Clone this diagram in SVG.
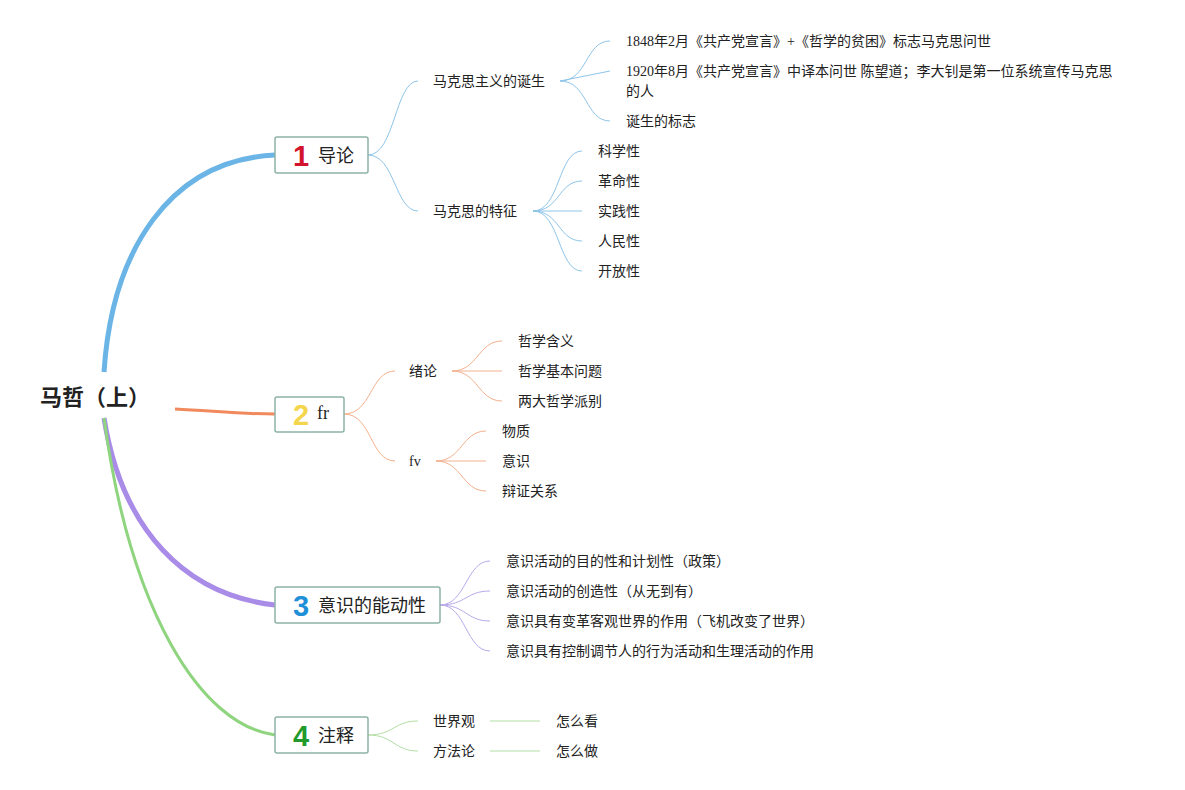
<svg xmlns="http://www.w3.org/2000/svg" width="1185" height="790" viewBox="0 0 1185 790">
<style>
text{font-family:"Liberation Serif","Noto Sans CJK SC",sans-serif;fill:#222}
.t{font-size:14px}
.b{font-size:18px}
.n{font-family:"Liberation Sans","Noto Sans CJK SC",sans-serif;font-weight:bold;font-size:29px}
.box{fill:#fff;stroke:#8db3a8;stroke-width:1.5}
.c{fill:none}
.bl{stroke:#8ec5e9;stroke-width:1}
.or{stroke:#f4b08d;stroke-width:1}
.pu{stroke:#b9a9ea;stroke-width:1}
.gr{stroke:#b3dea5;stroke-width:1}
</style>
<rect width="1185" height="790" fill="#fff"/>
<g id="connectors" class="c">
<path d="M104,372 C112,250 170,160 275,155" stroke="#6ab4e6" stroke-width="5"/>
<path d="M175,409 C215,411 240,414 275,414" stroke="#f08a5c" stroke-width="3"/>
<path d="M104,418 C122,530 185,595 275,605" stroke="#a98be8" stroke-width="5"/>
<path d="M104,418 C130,610 200,725 275,735" stroke="#8fd47e" stroke-width="3"/>
<g class="bl">
<path d="M368,155 C395,155 395,81 418,81"/>
<path d="M368,155 C395,155 395,211 418,211"/>
<path d="M560,81 C588,81 585,41 610,41"/>
<path d="M560,81 L610,71"/>
<path d="M560,81 C588,81 585,121 610,121"/>
<path d="M533,211 C560,211 558,151 582,151"/>
<path d="M533,211 C560,211 558,181 582,181"/>
<path d="M533,211 L582,211"/>
<path d="M533,211 C560,211 558,241 582,241"/>
<path d="M533,211 C560,211 558,271 582,271"/>
</g>
<g class="or">
<path d="M344,414 C372,414 370,371 395,371"/>
<path d="M344,414 C372,414 370,461 395,461"/>
<path d="M452,371 C478,371 478,341 502,341"/>
<path d="M452,371 L502,371"/>
<path d="M452,371 C478,371 478,401 502,401"/>
<path d="M436,461 C462,461 462,431 486,431"/>
<path d="M436,461 L486,461"/>
<path d="M436,461 C462,461 462,491 486,491"/>
</g>
<g class="pu">
<path d="M440,605 C466,605 466,561 490,561"/>
<path d="M440,605 C466,605 466,591 490,591"/>
<path d="M440,605 C466,605 466,621 490,621"/>
<path d="M440,605 C466,605 466,651 490,651"/>
</g>
<g class="gr">
<path d="M368,735 C394,735 394,721 418,721"/>
<path d="M368,735 C394,735 394,751 418,751"/>
<path d="M490,721 L540,721"/>
<path d="M490,751 L540,751"/>
</g>
</g>
<g id="root"><text x="40" y="405" style="font-size:22px;font-weight:bold;font-family:'Liberation Sans','Noto Sans CJK SC',sans-serif">马哲（上）</text></g>
<g id="n1"><rect class="box" x="275" y="137" width="93" height="36" rx="2"/><text class="n" x="293" y="166" fill="#d3122c" style="fill:#d3122c">1</text><text class="b" x="318" y="162">导论</text></g>
<g id="n2"><rect class="box" x="275" y="397" width="69" height="35" rx="2"/><text class="n" x="293" y="425" style="fill:#f4d64c">2</text><text class="b" x="317" y="419">fr</text></g>
<g id="n3"><rect class="box" x="275" y="587" width="165" height="36" rx="2"/><text class="n" x="293" y="616" style="fill:#1f8fd8">3</text><text class="b" x="318" y="612">意识的能动性</text></g>
<g id="n4"><rect class="box" x="275" y="717" width="93" height="36" rx="2"/><text class="n" x="293" y="746" style="fill:#1f9a2b">4</text><text class="b" x="318" y="742">注释</text></g>
<g id="n1a"><text class="t" x="433" y="86">马克思主义的诞生</text></g>
<g id="n1b"><text class="t" x="433" y="216">马克思的特征</text></g>
<g id="n1a1"><text class="t" x="626" y="46">1848年2月《共产党宣言》+《哲学的贫困》标志马克思问世</text></g>
<g id="n1a2"><text class="t" x="626" y="76">1920年8月《共产党宣言》中译本问世 陈望道；李大钊是第一位系统宣传马克思</text><text class="t" x="626" y="96">的人</text></g>
<g id="n1a3"><text class="t" x="626" y="126">诞生的标志</text></g>
<g id="n1b1"><text class="t" x="598" y="156">科学性</text></g>
<g id="n1b2"><text class="t" x="598" y="186">革命性</text></g>
<g id="n1b3"><text class="t" x="598" y="216">实践性</text></g>
<g id="n1b4"><text class="t" x="598" y="246">人民性</text></g>
<g id="n1b5"><text class="t" x="598" y="276">开放性</text></g>
<g id="n2a"><text class="t" x="409" y="376">绪论</text></g>
<g id="n2b"><text class="t" x="409" y="466">fv</text></g>
<g id="n2a1"><text class="t" x="518" y="346">哲学含义</text></g>
<g id="n2a2"><text class="t" x="518" y="376">哲学基本问题</text></g>
<g id="n2a3"><text class="t" x="518" y="406">两大哲学派别</text></g>
<g id="n2b1"><text class="t" x="502" y="436">物质</text></g>
<g id="n2b2"><text class="t" x="502" y="466">意识</text></g>
<g id="n2b3"><text class="t" x="502" y="496">辩证关系</text></g>
<g id="n3a"><text class="t" x="506" y="566">意识活动的目的性和计划性（政策）</text></g>
<g id="n3b"><text class="t" x="506" y="596">意识活动的创造性（从无到有）</text></g>
<g id="n3c"><text class="t" x="506" y="626">意识具有变革客观世界的作用（飞机改变了世界）</text></g>
<g id="n3d"><text class="t" x="506" y="656">意识具有控制调节人的行为活动和生理活动的作用</text></g>
<g id="n4a"><text class="t" x="433" y="726">世界观</text></g>
<g id="n4b"><text class="t" x="433" y="756">方法论</text></g>
<g id="n4a1"><text class="t" x="556" y="726">怎么看</text></g>
<g id="n4b1"><text class="t" x="556" y="756">怎么做</text></g>
</svg>
